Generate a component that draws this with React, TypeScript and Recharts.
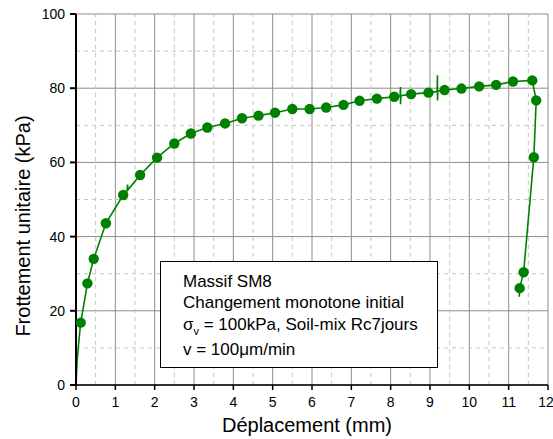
import React from 'react';
import {
  ComposedChart,
  Line,
  Scatter,
  XAxis,
  YAxis,
  CartesianGrid,
  ReferenceLine,
} from 'recharts';

// markers (déplacement mm, frottement kPa)
const markerX = [0.12, 0.29, 0.45, 0.76, 1.2, 1.63, 2.06, 2.5, 2.92, 3.34, 3.79, 4.22, 4.64, 5.06, 5.5, 5.94, 6.36, 6.8, 7.21, 7.65, 8.09, 8.52, 8.96, 9.37, 9.8, 10.25, 10.68, 11.11, 11.6, 11.7, 11.64, 11.38, 11.28];
const markerY = [16.8, 27.4, 34.0, 43.6, 51.2, 56.6, 61.3, 65.1, 67.8, 69.4, 70.5, 71.9, 72.6, 73.4, 74.4, 74.4, 74.8, 75.5, 76.6, 77.2, 77.7, 78.4, 78.8, 79.5, 79.9, 80.5, 80.9, 81.8, 82.1, 76.7, 61.4, 30.4, 26.1];

// measured curve (with the small spikes)
const curveX = [0, 0.03, 0.06, 0.1, 0.12, 0.29, 0.45, 0.76, 1.2, 1.3, 1.31, 1.32, 1.63, 2.06, 2.5, 2.92, 3.34, 3.79, 4.22, 4.64, 5.06, 5.5, 5.94, 6.36, 6.8, 7.21, 7.65, 8.09, 8.24, 8.25, 8.25, 8.26, 8.52, 8.96, 9.18, 9.19, 9.19, 9.2, 9.37, 9.8, 10.25, 10.68, 11.11, 11.6, 11.7, 11.64, 11.38, 11.28, 11.27];
const curveY = [0, 6.7, 10.3, 14.8, 16.8, 27.4, 34.0, 43.6, 51.2, 52.4, 54.0, 52.6, 56.6, 61.3, 65.1, 67.8, 69.4, 70.5, 71.9, 72.6, 73.4, 74.4, 74.4, 74.8, 75.5, 76.6, 77.2, 77.7, 77.9, 80.3, 75.7, 78.0, 78.4, 78.8, 79.1, 83.5, 76.7, 79.2, 79.5, 79.9, 80.5, 80.9, 81.8, 82.1, 76.7, 61.4, 30.4, 26.1, 23.8];

const xTicks = [0, 1, 2, 3, 4, 5, 6, 7, 8, 9, 10, 11, 12];
const yTicks = [0, 20, 40, 60, 80, 100];
const xMinor = [0.5, 1.5, 2.5, 3.5, 4.5, 5.5, 6.5, 7.5, 8.5, 9.5, 10.5, 11.5];
const yMinor = [10, 30, 50, 70, 90];

const markers = markerX.map((x, i) => ({ x, y: markerY[i] }));
const curve = curveX.map((x, i) => ({ x, y: curveY[i] }));

const FONT = 'Liberation Sans, Arial, sans-serif';
const GREEN = '#008000';

const Dot = (props: any) => <circle cx={props.cx} cy={props.cy} r={5.2} fill={GREEN} />;

export default function App() {
  return (
    <div style={{ position: 'absolute', left: 0, top: 0, width: 553, height: 439, background: '#fff', fontFamily: FONT }}>
      <ComposedChart width={553} height={439} margin={{ top: 14, right: 5, left: 0, bottom: 0 }}>
        <CartesianGrid stroke="#8c8c8c" strokeWidth={1} />
        {xMinor.map((v) => (
          <ReferenceLine key={'x' + v} x={v} stroke="#c4c4c4" strokeDasharray="4 4" />
        ))}
        {yMinor.map((v) => (
          <ReferenceLine key={'y' + v} y={v} stroke="#c4c4c4" strokeDasharray="4 4" />
        ))}
        <XAxis
          dataKey="x"
          type="number"
          domain={[0, 12]}
          ticks={xTicks}
          height={54}
          stroke="#000"
          strokeWidth={1.5}
          tickSize={5}
          tickMargin={7}
          tick={{ fontSize: 14, fill: '#000', fontFamily: FONT }}
          allowDataOverflow
        />
        <XAxis
          xAxisId="top"
          orientation="top"
          type="number"
          domain={[0, 12]}
          ticks={xTicks}
          height={0}
          stroke="#000"
          strokeWidth={1.5}
          tick={false}
        />
        <YAxis
          dataKey="y"
          type="number"
          domain={[0, 100]}
          ticks={yTicks}
          width={76}
          stroke="#000"
          strokeWidth={2}
          tickSize={6}
          tickMargin={5}
          tick={{ fontSize: 14, fill: '#000', fontFamily: FONT }}
        />
        <YAxis
          yAxisId="right"
          orientation="right"
          type="number"
          domain={[0, 100]}
          ticks={yTicks}
          width={0}
          mirror
          stroke="#000"
          strokeWidth={1.5}
          tickSize={5}
          tickFormatter={() => ''}
        />
        <Line
          data={curve}
          dataKey="y"
          type="linear"
          stroke={GREEN}
          strokeWidth={1.6}
          dot={false}
          activeDot={false}
          isAnimationActive={false}
        />
        <Scatter data={markers} dataKey="y" fill={GREEN} shape={Dot} isAnimationActive={false} />
      </ComposedChart>
      <svg width={553} height={439} style={{ position: 'absolute', left: 0, top: 0, pointerEvents: 'none' }}>
        <text
          x={23}
          y={226}
          transform="rotate(-90 23 226)"
          textAnchor="middle"
          dominantBaseline="central"
          fontSize={20}
          fontFamily={FONT}
          fill="#000"
        >
          Frottement unitaire (kPa)
        </text>
        <text x={307} y={432} textAnchor="middle" fontSize={20} fontFamily={FONT} fill="#000">
          Déplacement (mm)
        </text>
        <rect x={160.5} y={261.5} width={277} height={106} fill="#fff" stroke="#000" strokeWidth={1} />
        <g fontSize={17} fontFamily={FONT} fill="#000">
          <text x={183} y={287}>Massif SM8</text>
          <text x={183} y={308}>Changement monotone initial</text>
          <text x={183} y={330}>
            σ<tspan fontSize={11} dy={5}>v</tspan>
            <tspan dy={-5}> = 100kPa, Soil-mix Rc7jours</tspan>
          </text>
          <text x={183} y={355}>v = 100μm/min</text>
        </g>
      </svg>
    </div>
  );
}
